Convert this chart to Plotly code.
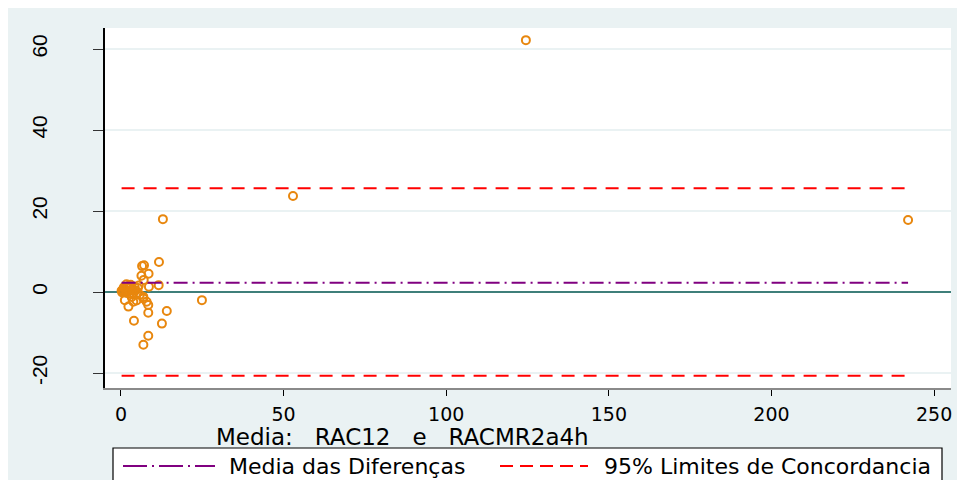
import plotly.graph_objects as go

# ---- data ----
mean_vals = [124.5, 52.9, 242.0, 12.9, 24.9, 11.7, 14.1, 12.6, 8.4, 6.9,
             4.0, 7.1, 6.5, 8.5, 6.3, 7.0, 11.6, 8.6, 1.7, 1.2,
             2.3, 3.8, 4.8, 6.9, 7.9, 8.4, 8.4, 5.8, 6.9, 3.8,
             3.3, 0.2, 0.5, 0.8, 1.0, 1.5, 2.0, 2.5, 3.0, 3.5,
             4.2, 4.5, 5.2, 2.8, 1.8, 0.4, 5.5, 3.0, 2.2, 0.9, 4.8]
diff_vals = [62.2, 23.7, 17.8, 18.0, -2.0, 7.4, -4.7, -7.8, -10.8, -13.0,
             -7.1, 6.6, 6.4, 4.5, 4.0, 3.0, 1.7, 1.3, 1.9, -2.0,
             -3.6, -2.4, -2.1, -1.6, -2.4, -3.2, -5.1, -0.7, -1.2, -0.3,
             -1.2, 0.3, 0.5, 0.1, 0.8, 0.4, 1.0, 0.2, 1.2, 0.6,
             1.3, 0.4, 1.0, -0.4, -0.2, -0.1, 1.6, 1.8, 1.5, 1.2, -0.5]
mean_diff = 2.3
loa_upper = 25.6
loa_lower = -20.7

x_ticks = [0, 50, 100, 150, 200, 250]
y_ticks = [-20, 0, 20, 40, 60]
x_title = "Media:\u00a0\u00a0\u00a0RAC12\u00a0\u00a0\u00a0e\u00a0\u00a0\u00a0RACMR2a4h"
legend_labels = ["Media das Diferenças", "95% Limites de Concordancia"]

# ---- styles ----
BG = "#EAF2F3"
ORANGE = "#E8870E"
PURPLE = "#800080"
RED = "#FF0000"
TEAL = "#3F7F7A"
FONT = "DejaVu Sans"
FONT_Y = "Liberation Sans"

# page has an 8px body margin; figure origin is at page (8, 8)
OFF = 8
W, H = 965, 480
L, R, T, B = 97, 22, 20, 100
PW, PH = W - L - R, H - T - B


def px(page_x):
    return (page_x - OFF - L) / PW


def py(page_y):
    return (H - B - (page_y - OFF)) / PH


x0_line = min(mean_vals)
x1_line = max(mean_vals)

fig = go.Figure()
fig.add_trace(go.Scatter(
    x=mean_vals, y=diff_vals, mode="markers",
    marker=dict(symbol="circle-open", size=8, color=ORANGE,
                line=dict(width=2, color=ORANGE)),
    showlegend=False, hoverinfo="x+y"))
fig.add_trace(go.Scatter(
    x=[x0_line, x1_line], y=[mean_diff, mean_diff], mode="lines",
    line=dict(color=PURPLE, width=2, dash="14px,5px,2px,5px"),
    name=legend_labels[0], showlegend=False))
fig.add_trace(go.Scatter(
    x=[x0_line, x1_line, None, x0_line, x1_line],
    y=[loa_upper, loa_upper, None, loa_lower, loa_lower], mode="lines",
    line=dict(color=RED, width=2, dash="13px,9px"),
    name=legend_labels[1], showlegend=False))

shapes = [
    # legend box
    dict(type="rect", xref="paper", yref="paper", x0=px(113), x1=px(942),
         y0=py(500), y1=py(448), fillcolor="white",
         line=dict(width=1.2, color="black"), layer="above"),
    # legend samples
    dict(type="line", xref="paper", yref="paper", x0=px(123), x1=px(215),
         y0=py(466), y1=py(466),
         line=dict(color=PURPLE, width=2, dash="24px,5px,2px,5px")),
    dict(type="line", xref="paper", yref="paper", x0=px(500), x1=px(588),
         y0=py(466), y1=py(466),
         line=dict(color=RED, width=2, dash="13px,7px")),
]

annotations = [
    dict(text=x_title, xref="paper", yref="paper", x=px(214), y=py(437),
         xanchor="left", yanchor="middle", showarrow=False,
         font=dict(family=FONT, size=23, color="black")),
    dict(text=legend_labels[0], xref="paper", yref="paper", x=px(227), y=py(466),
         xanchor="left", yanchor="middle", showarrow=False,
         font=dict(family=FONT, size=22, color="black")),
    dict(text=legend_labels[1], xref="paper", yref="paper", x=px(602), y=py(466),
         xanchor="left", yanchor="middle", showarrow=False,
         font=dict(family=FONT, size=22, color="black")),
]

fig.update_layout(
    width=W, height=H,
    margin=dict(l=L, r=R, t=T, b=B, pad=0),
    paper_bgcolor=BG, plot_bgcolor="white",
    shapes=shapes, annotations=annotations,
    showlegend=False,
)
fig.update_xaxes(
    range=[-4.9, 255.2], tickvals=x_ticks, ticktext=[str(v) for v in x_ticks],
    showgrid=False, zeroline=False,
    showline=True, linecolor="#8A8A8A", linewidth=2,
    ticks="outside", ticklen=6, tickwidth=1.2, tickcolor="black",
    ticklabelstandoff=2,
    tickfont=dict(family=FONT, size=19, color="black"),
)
fig.update_yaxes(
    range=[-23.7, 65.2], tickvals=y_ticks, ticktext=[str(v) for v in y_ticks],
    showgrid=True, gridcolor=BG, gridwidth=1.5,
    zeroline=True, zerolinecolor=TEAL, zerolinewidth=1.6,
    showline=True, linecolor="black", linewidth=2,
    ticks="outside", ticklen=10, tickwidth=1.2, tickcolor="#333333",
    tickangle=-90, ticklabelstandoff=38,
    tickfont=dict(family=FONT_Y, size=21, color="black"),
)

fig.write_html("out.html")
